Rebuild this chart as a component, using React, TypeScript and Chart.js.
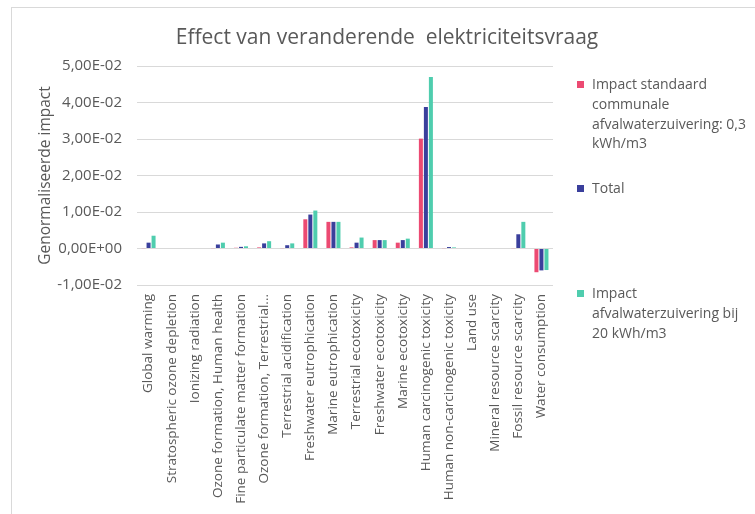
import React, { useEffect, useRef } from "react";
import { Chart, registerables } from "chart.js";

Chart.register(...registerables);

const categories = [
  "Global warming",
  "Stratospheric ozone depletion",
  "Ionizing radiation",
  "Ozone formation, Human health",
  "Fine particulate matter formation",
  "Ozone formation, Terrestrial...",
  "Terrestrial acidification",
  "Freshwater eutrophication",
  "Marine eutrophication",
  "Terrestrial ecotoxicity",
  "Freshwater ecotoxicity",
  "Marine ecotoxicity",
  "Human carcinogenic toxicity",
  "Human non-carcinogenic toxicity",
  "Land use",
  "Mineral resource scarcity",
  "Fossil resource scarcity",
  "Water consumption",
];

const standaardValues = [
  0.0001, 0, 0, 0.0001, 0.0002, 0.0003, 0.0001, 0.008, 0.0073, 0.0003, 0.0023,
  0.0016, 0.0301, 0.0001, 0, 0, 0.0001, -0.0065,
];
const totalValues = [
  0.0016, 0, 0, 0.0011, 0.00045, 0.0014, 0.0009, 0.0093, 0.0073, 0.0016,
  0.0023, 0.0023, 0.0388, 0.0004, 0, 0, 0.0039, -0.006,
];
const impact20Values = [
  0.0035, 0, 0, 0.0016, 0.0006, 0.002, 0.0014, 0.0104, 0.0073, 0.003, 0.0023,
  0.0027, 0.047, 0.0003, 0, 0, 0.0073, -0.0059,
];

const seriesNames = [
  ["Impact standaard", "communale", "afvalwaterzuivering: 0,3", "kWh/m3"],
  ["Total"],
  ["Impact", "afvalwaterzuivering bij", "20 kWh/m3"],
];
const seriesColors = ["#EC4A72", "#3A3F9C", "#4FCDAE"];

const yTickValues = [-0.01, 0, 0.01, 0.02, 0.03, 0.04, 0.05];
const yTickLabels = [
  "-1,00E-02",
  "0,00E+00",
  "1,00E-02",
  "2,00E-02",
  "3,00E-02",
  "4,00E-02",
  "5,00E-02",
];

const titleText = "Effect van veranderende  elektriciteitsvraag";
const yTitleText = "Genormaliseerde impact";

const TEXT = "#595959";
const FONT = "'Open Sans', Lato, sans-serif";

export default function App() {
  const ref = useRef<HTMLCanvasElement | null>(null);

  useEffect(() => {
    if (!ref.current) return;
    const chart = new Chart(ref.current, {
      type: "bar",
      data: {
        labels: categories,
        datasets: [standaardValues, totalValues, impact20Values].map((d, i) => ({
          label: seriesNames[i].join(" "),
          data: d,
          backgroundColor: seriesColors[i],
          borderWidth: 0,
          categoryPercentage: 0.65,
          barPercentage: 0.8,
        })),
      },
      options: {
        responsive: false,
        animation: false,
        devicePixelRatio: 1,
        layout: { padding: { top: 66, right: 202, left: 0, bottom: 0 } },
        plugins: {
          legend: { display: false },
          title: { display: false },
          tooltip: { enabled: false },
        },
        scales: {
          x: {
            grid: { display: false, drawTicks: false },
            border: { display: false },
            ticks: {
              color: TEXT,
              font: { family: FONT, size: 13.5 },
              minRotation: 90,
              maxRotation: 90,
              autoSkip: false,
              padding: 9,
            },
            afterFit: (s: any) => {
              s.height = 229;
            },
          },
          y: {
            min: yTickValues[0],
            max: yTickValues[yTickValues.length - 1],
            afterBuildTicks: (s: any) => {
              s.ticks = yTickValues.map((v) => ({ value: v }));
            },
            grid: { color: "#D9D9D9", lineWidth: 1, drawTicks: false },
            border: { display: false },
            ticks: {
              color: TEXT,
              font: { family: FONT, size: 15 },
              padding: 15,
              callback: (v: any) => {
                const idx = yTickValues.findIndex(
                  (t) => Math.abs(t - Number(v)) < 1e-9
                );
                return idx >= 0 ? yTickLabels[idx] : "";
              },
            },
            title: {
              display: true,
              text: yTitleText,
              color: TEXT,
              font: { family: FONT, size: 15.5 },
              padding: { top: 36, bottom: 0 },
            },
            afterFit: (s: any) => {
              s.width = 137;
            },
          },
        },
      },
    });
    return () => chart.destroy();
  }, []);

  const legendTops = [74, 178, 283];

  return (
    <div
      style={{
        position: "fixed",
        left: 0,
        top: 0,
        width: 755,
        height: 514,
        background: "#fff",
        overflow: "hidden",
        fontFamily: FONT,
      }}
    >
      <div
        style={{
          position: "absolute",
          left: 11,
          top: 7,
          width: 760,
          height: 520,
          borderLeft: "1px solid #D9D9D9",
          borderTop: "1px solid #D9D9D9",
        }}
      />
      <canvas
        ref={ref}
        width={755}
        height={514}
        style={{ position: "absolute", left: 0, top: 0, width: 755, height: 514 }}
      />
      <div
        style={{
          position: "absolute",
          left: 0,
          width: 774,
          top: 21,
          textAlign: "center",
          fontSize: 21,
          color: TEXT,
          whiteSpace: "pre",
          lineHeight: "30px",
        }}
      >
        {titleText}
      </div>
      {seriesNames.map((lines, i) => (
        <div
          key={i}
          style={{
            position: "absolute",
            left: 577,
            top: legendTops[i],
            color: TEXT,
            fontSize: 14,
            lineHeight: "19.8px",
          }}
        >
          <span
            style={{
              position: "absolute",
              left: 0,
              top: 7,
              width: 7,
              height: 7,
              background: seriesColors[i],
            }}
          />
          <div style={{ paddingLeft: 15 }}>
            {lines.map((l, j) => (
              <div key={j} style={{ whiteSpace: "nowrap" }}>
                {l}
              </div>
            ))}
          </div>
        </div>
      ))}
    </div>
  );
}
